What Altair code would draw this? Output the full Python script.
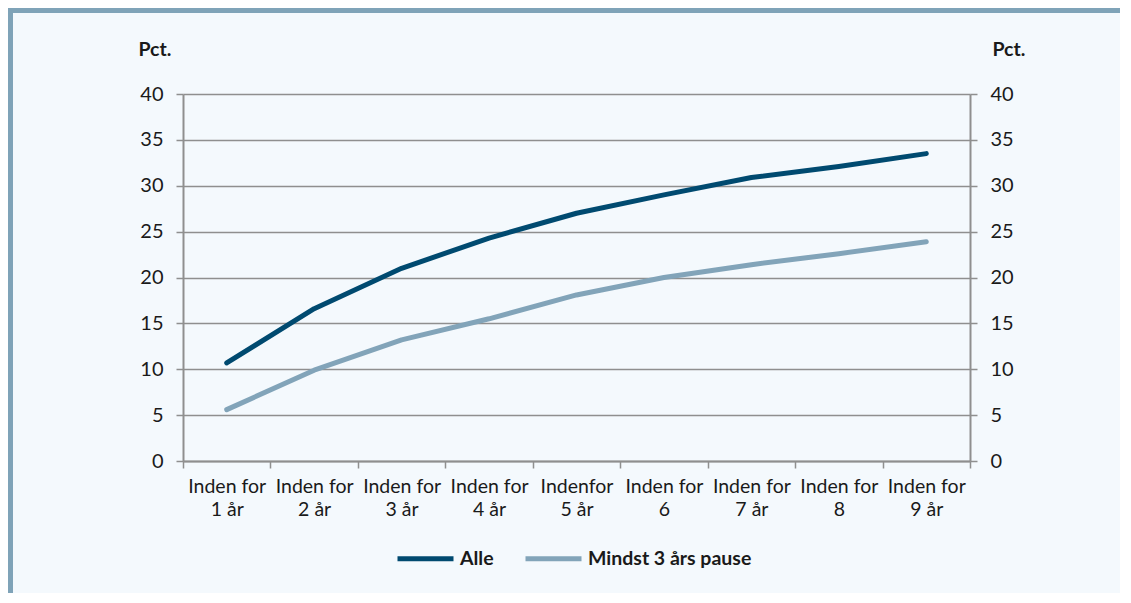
import altair as alt
import pandas as pd

# ---- data ----
categories = ["Inden for 1 år", "Inden for 2 år", "Inden for 3 år", "Inden for 4 år",
              "Indenfor 5 år", "Inden for 6", "Inden for 7 år", "Inden for 8", "Inden for 9 år"]
alle = [10.7, 16.6, 21.0, 24.3, 27.0, 29.0, 30.9, 32.1, 33.5]
mindst = [5.6, 9.9, 13.2, 15.5, 18.1, 20.0, 21.4, 22.6, 23.9]
series_names = ["Alle", "Mindst 3 års pause"]
series_colors = ["#004a70", "#82a4b9"]
y_ticks = [0, 5, 10, 15, 20, 25, 30, 35, 40]

rows = []
for c, a, m in zip(categories, alle, mindst):
    rows.append({"kategori": c, "serie": series_names[0], "pct": a})
    rows.append({"kategori": c, "serie": series_names[1], "pct": m})
df = pd.DataFrame(rows)

FONT = "Lato"
TXT = "#1a1a1a"
GRAY = "#8f8f8f"
BG = "#f4f9fd"
FRAME = "#7fa3b8"

W, H = 787, 367
PAD = {"left": 175, "top": 86, "right": 150, "bottom": 132}

label_expr = ("[substring(datum.label, 0, indexof(datum.label, 'for') + 3), "
              "substring(datum.label, indexof(datum.label, 'for') + 4)]")

x_enc = alt.X(
    "kategori:N",
    sort=categories,
    scale=alt.Scale(type="band", paddingInner=0, paddingOuter=0),
    axis=alt.Axis(
        title=None, tickBand="extent", labelAngle=0, labelExpr=label_expr,
        labelFont=FONT, labelFontSize=19.5, labelColor=TXT, labelLineHeight=23,
        labelPadding=9, labelBaseline="top",
        tickSize=7, tickColor=GRAY, tickWidth=1.5,
        domainColor=GRAY, domainWidth=2, grid=False,
    ),
)

y_scale = alt.Scale(domain=[0, 40], nice=False, zero=True)

common_y_axis = dict(
    values=y_ticks, title="Pct.", titleAngle=0, titleAlign="left", titleBaseline="middle",
    titleFont=FONT, titleFontSize=19.5, titleFontWeight="bold", titleColor=TXT,
    labelFont=FONT, labelFontSize=20, labelColor=TXT, labelPadding=13,
    tickSize=7, tickColor=GRAY, tickWidth=1.5, domainColor=GRAY, domainWidth=2,
)

lines = alt.Chart(df).mark_line(strokeWidth=5, strokeCap="round", strokeJoin="round").encode(
    x=x_enc,
    y=alt.Y("pct:Q", scale=y_scale,
            axis=alt.Axis(orient="left", titleX=-45, titleY=-45, grid=True,
                          gridColor=GRAY, gridWidth=1.5, **common_y_axis)),
    color=alt.Color(
        "serie:N",
        scale=alt.Scale(domain=series_names, range=series_colors),
        legend=alt.Legend(
            title=None, orient="none", direction="horizontal", legendX=212, legendY=434,
            symbolType="stroke", symbolSize=3136, symbolStrokeWidth=5,
            labelFont=FONT, labelFontSize=19.5, labelFontWeight="bold", labelColor=TXT,
            labelOffset=4, columnPadding=21, labelLimit=400,
        ),
    ),
    order=alt.Order("serie:N"),
)

right_axis = alt.Chart(df).mark_line(opacity=0).encode(
    x=x_enc,
    y=alt.Y("pct:Q", scale=y_scale,
            axis=alt.Axis(orient="right", titleX=22, titleY=-45, grid=False, **common_y_axis)),
    detail="serie:N",
)

frame_df = pd.DataFrame({"d": [0]})
frame_left = alt.Chart(frame_df).mark_rect(color=FRAME).encode(
    x=alt.value(-PAD["left"]), x2=alt.value(-PAD["left"] + 5),
    y=alt.value(-PAD["top"]), y2=alt.value(H + PAD["bottom"]),
)
frame_top = alt.Chart(frame_df).mark_rect(color=FRAME).encode(
    x=alt.value(-PAD["left"]), x2=alt.value(W + PAD["right"]),
    y=alt.value(-PAD["top"]), y2=alt.value(-PAD["top"] + 5),
)

chart = alt.layer(frame_left, frame_top, right_axis, lines).resolve_axis(
    y="independent"
).properties(
    width=W, height=H,
    autosize=alt.AutoSizeParams(type="none"),
    padding=PAD,
    background=BG,
).configure_view(stroke=None)

chart.save("out.html", embed_options={"renderer": "svg", "actions": False})
